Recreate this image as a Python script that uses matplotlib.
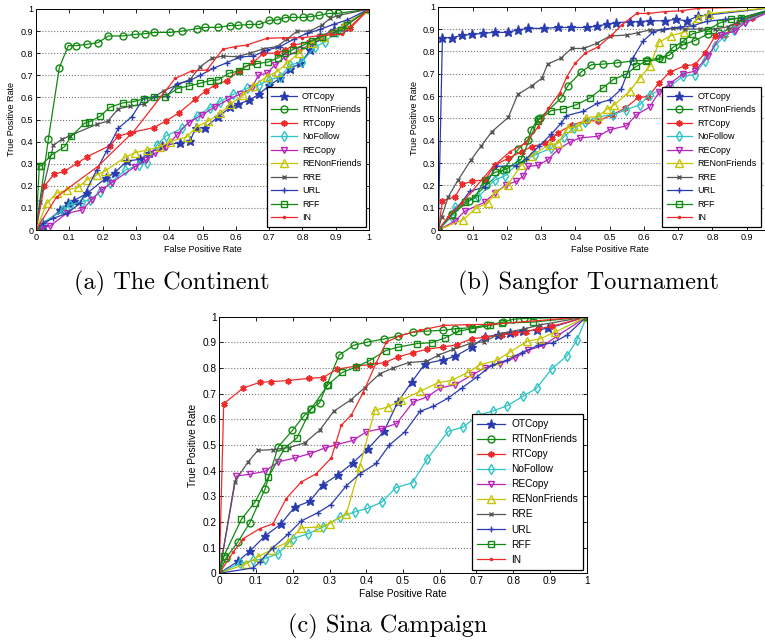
import matplotlib
matplotlib.use("Agg")
import matplotlib.pyplot as plt
from matplotlib.ticker import FormatStrFormatter

plt.rcParams['font.family'] = ['Liberation Sans', 'DejaVu Sans']

names = ["OTCopy", "RTNonFriends", "RTCopy", "NoFollow", "RECopy",
         "RENonFriends", "RRE", "URL", "RFF", "IN"]

# ---- (a) The Continent ----
a_otcopy_x = [0, 0.02, 0.072, 0.097, 0.114, 0.154, 0.21, 0.237, 0.273, 0.313, 0.338, 0.378, 0.433, 0.463, 0.48, 0.507, 0.546, 0.583, 0.608, 0.641, 0.67, 0.701, 0.733, 0.764, 0.794, 0.824, 0.854, 0.894, 0.924, 1]
a_otcopy_y = [0, 0.02, 0.089, 0.122, 0.133, 0.167, 0.235, 0.26, 0.312, 0.32, 0.347, 0.382, 0.395, 0.404, 0.463, 0.463, 0.51, 0.555, 0.57, 0.588, 0.614, 0.656, 0.686, 0.73, 0.754, 0.815, 0.875, 0.905, 0.92, 1]
a_rtnon_x = [0, 0.037, 0.07, 0.097, 0.12, 0.152, 0.187, 0.217, 0.26, 0.297, 0.326, 0.355, 0.402, 0.438, 0.483, 0.509, 0.547, 0.582, 0.607, 0.639, 0.671, 0.701, 0.723, 0.749, 0.772, 0.802, 0.824, 0.85, 0.879, 0.906, 1]
a_rtnon_y = [0, 0.41, 0.735, 0.834, 0.834, 0.84, 0.848, 0.878, 0.878, 0.885, 0.888, 0.894, 0.894, 0.9, 0.911, 0.917, 0.917, 0.925, 0.926, 0.93, 0.93, 0.949, 0.95, 0.961, 0.962, 0.962, 0.965, 0.971, 0.98, 0.98, 1]
a_rtcopy_x = [0, 0.025, 0.054, 0.084, 0.124, 0.154, 0.222, 0.247, 0.282, 0.353, 0.39, 0.43, 0.478, 0.51, 0.539, 0.573, 0.609, 0.653, 0.683, 0.723, 0.749, 0.773, 0.819, 0.854, 0.894, 0.944, 1]
a_rtcopy_y = [0, 0.198, 0.252, 0.265, 0.302, 0.332, 0.382, 0.424, 0.44, 0.463, 0.493, 0.531, 0.591, 0.63, 0.656, 0.676, 0.721, 0.759, 0.8, 0.8, 0.815, 0.836, 0.851, 0.872, 0.897, 0.913, 1]
a_nofollow_x = [0, 0.017, 0.082, 0.102, 0.137, 0.162, 0.192, 0.222, 0.268, 0.308, 0.333, 0.363, 0.39, 0.438, 0.483, 0.523, 0.553, 0.593, 0.633, 0.67, 0.701, 0.733, 0.764, 0.799, 0.839, 0.869, 0.904, 1]
a_nofollow_y = [0, 0.03, 0.09, 0.113, 0.128, 0.136, 0.173, 0.211, 0.271, 0.294, 0.305, 0.385, 0.425, 0.46, 0.516, 0.554, 0.581, 0.614, 0.641, 0.656, 0.679, 0.694, 0.746, 0.762, 0.83, 0.852, 0.897, 1]
a_recopy_x = [0, 0.015, 0.042, 0.092, 0.137, 0.167, 0.197, 0.227, 0.298, 0.331, 0.358, 0.391, 0.423, 0.458, 0.498, 0.538, 0.578, 0.613, 0.648, 0.668, 0.693, 0.718, 0.749, 0.794, 0.829, 0.854, 0.889, 0.924, 1]
a_recopy_y = [0, 0.008, 0.018, 0.075, 0.09, 0.136, 0.181, 0.214, 0.287, 0.317, 0.347, 0.377, 0.43, 0.486, 0.52, 0.558, 0.591, 0.615, 0.641, 0.701, 0.709, 0.747, 0.784, 0.815, 0.845, 0.875, 0.893, 0.92, 1]
a_renon_x = [0, 0.032, 0.062, 0.092, 0.127, 0.152, 0.182, 0.207, 0.268, 0.298, 0.333, 0.373, 0.403, 0.453, 0.483, 0.518, 0.553, 0.583, 0.623, 0.653, 0.693, 0.723, 0.753, 0.789, 0.829, 0.864, 0.924, 1]
a_renon_y = [0, 0.12, 0.166, 0.181, 0.193, 0.226, 0.249, 0.267, 0.329, 0.35, 0.362, 0.377, 0.4, 0.422, 0.468, 0.493, 0.528, 0.569, 0.611, 0.652, 0.694, 0.716, 0.754, 0.8, 0.848, 0.875, 0.928, 1]
a_rre_x = [0, 0.012, 0.052, 0.077, 0.102, 0.182, 0.215, 0.247, 0.283, 0.323, 0.383, 0.423, 0.463, 0.493, 0.528, 0.561, 0.603, 0.643, 0.683, 0.723, 0.754, 0.784, 0.822, 0.859, 0.884, 0.906, 1]
a_rre_y = [0, 0.128, 0.383, 0.41, 0.427, 0.478, 0.492, 0.548, 0.56, 0.569, 0.63, 0.656, 0.682, 0.739, 0.777, 0.787, 0.784, 0.8, 0.82, 0.83, 0.864, 0.9, 0.9, 0.928, 0.958, 0.97, 1]
a_url_x = [0, 0.022, 0.052, 0.092, 0.132, 0.182, 0.212, 0.247, 0.288, 0.323, 0.353, 0.393, 0.423, 0.458, 0.493, 0.533, 0.573, 0.613, 0.653, 0.693, 0.733, 0.774, 0.814, 0.854, 0.894, 0.934, 1]
a_url_y = [0, 0.032, 0.053, 0.075, 0.12, 0.271, 0.357, 0.46, 0.513, 0.596, 0.603, 0.606, 0.662, 0.673, 0.7, 0.732, 0.757, 0.783, 0.787, 0.814, 0.83, 0.863, 0.89, 0.908, 0.931, 0.95, 1]
a_rff_x = [0, 0.01, 0.015, 0.045, 0.085, 0.106, 0.146, 0.16, 0.192, 0.222, 0.26, 0.293, 0.323, 0.354, 0.388, 0.425, 0.459, 0.493, 0.523, 0.547, 0.579, 0.609, 0.631, 0.665, 0.697, 0.728, 0.749, 0.771, 0.804, 0.829, 0.86, 0.891, 0.917, 0.934, 1]
a_rff_y = [0, 0.29, 0.29, 0.338, 0.376, 0.424, 0.483, 0.489, 0.514, 0.555, 0.575, 0.581, 0.593, 0.6, 0.603, 0.64, 0.652, 0.664, 0.676, 0.679, 0.709, 0.72, 0.742, 0.753, 0.76, 0.78, 0.8, 0.816, 0.837, 0.857, 0.875, 0.89, 0.905, 0.928, 1]
a_in_x = [0, 0.062, 0.185, 0.293, 0.418, 0.468, 0.513, 0.561, 0.598, 0.633, 0.693, 0.743, 0.799, 0.884, 0.919, 1]
a_in_y = [0, 0.15, 0.287, 0.445, 0.686, 0.72, 0.724, 0.818, 0.83, 0.837, 0.867, 0.87, 0.87, 0.885, 0.885, 1]

# ---- (b) Sangfor Tournament ----
b_otcopy_x = [0, 0.012, 0.039, 0.07, 0.099, 0.129, 0.165, 0.202, 0.232, 0.263, 0.308, 0.348, 0.387, 0.433, 0.462, 0.491, 0.519, 0.559, 0.589, 0.618, 0.661, 0.694, 0.725, 0.759, 0.788, 1]
b_otcopy_y = [0, 0.861, 0.861, 0.872, 0.876, 0.881, 0.885, 0.885, 0.896, 0.903, 0.903, 0.907, 0.907, 0.907, 0.913, 0.921, 0.928, 0.933, 0.933, 0.937, 0.937, 0.943, 0.937, 0.958, 0.963, 1]
b_rtnon_x = [0, 0.04, 0.09, 0.14, 0.19, 0.234, 0.262, 0.271, 0.291, 0.297, 0.359, 0.378, 0.417, 0.447, 0.482, 0.52, 0.569, 0.61, 0.644, 0.673, 0.714, 0.748, 0.787, 0.82, 0.855, 0.884, 1]
b_rtnon_y = [0, 0.07, 0.13, 0.2, 0.27, 0.363, 0.404, 0.449, 0.497, 0.503, 0.591, 0.646, 0.708, 0.74, 0.743, 0.748, 0.757, 0.76, 0.77, 0.782, 0.83, 0.848, 0.878, 0.88, 0.905, 0.942, 1]
b_rtcopy_x = [0, 0.012, 0.049, 0.07, 0.099, 0.136, 0.165, 0.204, 0.243, 0.272, 0.311, 0.331, 0.35, 0.389, 0.433, 0.467, 0.506, 0.545, 0.584, 0.613, 0.644, 0.675, 0.719, 0.748, 0.778, 0.807, 0.836, 0.865, 0.914, 1]
b_rtcopy_y = [0, 0.13, 0.149, 0.204, 0.219, 0.224, 0.291, 0.321, 0.351, 0.373, 0.388, 0.41, 0.436, 0.47, 0.49, 0.488, 0.515, 0.545, 0.594, 0.597, 0.658, 0.706, 0.736, 0.74, 0.791, 0.867, 0.875, 0.912, 0.948, 1]
b_nofollow_x = [0, 0.039, 0.049, 0.117, 0.165, 0.195, 0.233, 0.282, 0.328, 0.367, 0.396, 0.428, 0.467, 0.51, 0.549, 0.588, 0.617, 0.675, 0.714, 0.748, 0.777, 0.807, 0.834, 0.863, 0.894, 1]
b_nofollow_y = [0, 0.06, 0.104, 0.149, 0.224, 0.243, 0.299, 0.336, 0.366, 0.418, 0.458, 0.482, 0.507, 0.516, 0.539, 0.561, 0.606, 0.643, 0.688, 0.696, 0.755, 0.823, 0.867, 0.897, 0.935, 1]
b_recopy_x = [0, 0.048, 0.077, 0.135, 0.165, 0.199, 0.228, 0.247, 0.262, 0.291, 0.32, 0.349, 0.383, 0.413, 0.466, 0.5, 0.549, 0.578, 0.617, 0.644, 0.675, 0.714, 0.748, 0.787, 0.826, 0.865, 0.894, 1]
b_recopy_y = [0, 0.039, 0.084, 0.124, 0.166, 0.203, 0.218, 0.24, 0.285, 0.29, 0.315, 0.36, 0.393, 0.412, 0.42, 0.449, 0.467, 0.516, 0.551, 0.617, 0.655, 0.699, 0.711, 0.778, 0.875, 0.89, 0.927, 1]
b_renon_x = [0, 0.072, 0.111, 0.145, 0.165, 0.203, 0.242, 0.271, 0.325, 0.349, 0.378, 0.408, 0.432, 0.466, 0.491, 0.514, 0.558, 0.588, 0.617, 0.644, 0.678, 0.717, 0.758, 0.79, 1]
b_renon_y = [0, 0.046, 0.098, 0.121, 0.166, 0.203, 0.292, 0.333, 0.382, 0.388, 0.457, 0.464, 0.502, 0.509, 0.54, 0.561, 0.621, 0.681, 0.733, 0.841, 0.87, 0.886, 0.95, 0.969, 1]
b_rre_x = [0, 0.01, 0.029, 0.058, 0.095, 0.126, 0.156, 0.204, 0.232, 0.272, 0.302, 0.319, 0.357, 0.389, 0.425, 0.462, 0.501, 0.55, 0.584, 0.618, 0.652, 0.686, 0.72, 0.764, 0.807, 0.846, 0.875, 1]
b_rre_y = [0, 0.06, 0.149, 0.224, 0.313, 0.378, 0.44, 0.504, 0.607, 0.645, 0.679, 0.743, 0.769, 0.813, 0.813, 0.836, 0.869, 0.873, 0.884, 0.896, 0.896, 0.903, 0.9, 0.9, 0.9, 0.91, 0.933, 1]
b_url_x = [0, 0.05, 0.092, 0.135, 0.169, 0.227, 0.256, 0.295, 0.33, 0.359, 0.374, 0.422, 0.464, 0.5, 0.534, 0.568, 0.597, 0.626, 0.66, 0.704, 0.743, 0.783, 0.836, 0.884, 1]
b_url_y = [0, 0.09, 0.173, 0.193, 0.285, 0.288, 0.318, 0.377, 0.43, 0.479, 0.512, 0.531, 0.567, 0.583, 0.631, 0.77, 0.845, 0.886, 0.9, 0.909, 0.915, 0.934, 0.943, 0.95, 1]
b_rff_x = [0, 0.039, 0.077, 0.106, 0.135, 0.165, 0.199, 0.242, 0.29, 0.33, 0.364, 0.403, 0.442, 0.48, 0.51, 0.549, 0.578, 0.605, 0.654, 0.685, 0.714, 0.741, 0.787, 0.821, 0.855, 0.884, 1]
b_rff_y = [0, 0.067, 0.125, 0.143, 0.225, 0.258, 0.273, 0.318, 0.49, 0.535, 0.542, 0.561, 0.591, 0.636, 0.673, 0.699, 0.733, 0.755, 0.766, 0.818, 0.845, 0.878, 0.897, 0.927, 0.943, 0.95, 1]
b_in_x = [0, 0.029, 0.068, 0.16, 0.209, 0.253, 0.292, 0.321, 0.355, 0.375, 0.399, 0.428, 0.467, 0.506, 0.535, 0.579, 0.613, 0.661, 0.71, 0.759, 1]
b_in_y = [0, 0.06, 0.119, 0.284, 0.351, 0.388, 0.463, 0.545, 0.615, 0.687, 0.746, 0.791, 0.821, 0.873, 0.918, 0.97, 0.97, 0.978, 0.982, 0.993, 1]

# ---- (c) Sina Campaign ----
c_otcopy_x = [0, 0.051, 0.083, 0.124, 0.167, 0.205, 0.246, 0.282, 0.323, 0.364, 0.405, 0.448, 0.486, 0.524, 0.56, 0.61, 0.641, 0.687, 0.723, 0.759, 0.791, 0.827, 0.864, 0.896, 1]
c_otcopy_y = [0, 0.047, 0.086, 0.145, 0.191, 0.258, 0.28, 0.345, 0.384, 0.431, 0.486, 0.553, 0.668, 0.746, 0.817, 0.832, 0.845, 0.882, 0.921, 0.93, 0.935, 0.944, 0.948, 0.955, 1]
c_rtnon_x = [0, 0.019, 0.051, 0.083, 0.125, 0.16, 0.199, 0.23, 0.25, 0.273, 0.293, 0.326, 0.366, 0.403, 0.448, 0.487, 0.528, 0.565, 0.61, 0.641, 0.687, 0.728, 0.771, 0.8, 0.828, 1]
c_rtnon_y = [0, 0.061, 0.123, 0.197, 0.33, 0.492, 0.557, 0.613, 0.641, 0.665, 0.735, 0.85, 0.889, 0.901, 0.913, 0.925, 0.94, 0.944, 0.947, 0.953, 0.957, 0.968, 0.978, 0.99, 0.993, 1]
c_rtcopy_x = [0, 0.012, 0.065, 0.11, 0.141, 0.186, 0.245, 0.282, 0.32, 0.373, 0.409, 0.45, 0.486, 0.528, 0.565, 0.61, 0.646, 0.687, 0.723, 0.769, 0.805, 0.836, 0.868, 0.905, 1]
c_rtcopy_y = [0, 0.661, 0.722, 0.744, 0.747, 0.751, 0.76, 0.763, 0.795, 0.808, 0.813, 0.821, 0.843, 0.86, 0.873, 0.882, 0.891, 0.914, 0.92, 0.93, 0.935, 0.942, 0.953, 0.962, 1]
c_nofollow_x = [0, 0.056, 0.092, 0.124, 0.16, 0.2, 0.241, 0.282, 0.328, 0.369, 0.403, 0.442, 0.481, 0.526, 0.565, 0.623, 0.664, 0.705, 0.744, 0.782, 0.827, 0.864, 0.905, 0.946, 0.973, 1]
c_nofollow_y = [0, 0.039, 0.05, 0.057, 0.076, 0.135, 0.154, 0.18, 0.219, 0.239, 0.253, 0.277, 0.334, 0.353, 0.444, 0.553, 0.57, 0.616, 0.632, 0.652, 0.69, 0.722, 0.797, 0.847, 0.908, 1]
c_recopy_x = [0, 0.046, 0.083, 0.124, 0.16, 0.205, 0.246, 0.287, 0.318, 0.364, 0.4, 0.441, 0.482, 0.528, 0.565, 0.601, 0.642, 0.687, 0.723, 0.764, 0.805, 0.841, 0.882, 0.92, 1]
c_recopy_y = [0, 0.379, 0.386, 0.397, 0.434, 0.449, 0.466, 0.488, 0.501, 0.518, 0.551, 0.564, 0.583, 0.668, 0.687, 0.722, 0.735, 0.772, 0.801, 0.817, 0.84, 0.869, 0.888, 0.925, 1]
c_renon_x = [0, 0.073, 0.105, 0.142, 0.187, 0.223, 0.269, 0.3, 0.346, 0.382, 0.423, 0.459, 0.495, 0.546, 0.596, 0.633, 0.678, 0.71, 0.755, 0.791, 0.837, 0.873, 0.914, 1]
c_renon_y = [0, 0.037, 0.064, 0.092, 0.122, 0.177, 0.18, 0.193, 0.232, 0.414, 0.635, 0.648, 0.674, 0.709, 0.743, 0.752, 0.784, 0.813, 0.83, 0.862, 0.904, 0.914, 0.94, 1]
c_rre_x = [0, 0.042, 0.078, 0.105, 0.146, 0.19, 0.232, 0.273, 0.311, 0.359, 0.396, 0.437, 0.473, 0.515, 0.566, 0.596, 0.637, 0.682, 0.721, 0.764, 0.832, 0.873, 1]
c_rre_y = [0, 0.356, 0.434, 0.479, 0.482, 0.49, 0.508, 0.557, 0.631, 0.677, 0.723, 0.778, 0.8, 0.821, 0.827, 0.85, 0.873, 0.895, 0.903, 0.934, 0.953, 0.968, 1]
c_url_x = [0, 0.092, 0.11, 0.146, 0.187, 0.223, 0.268, 0.304, 0.345, 0.382, 0.427, 0.463, 0.505, 0.546, 0.583, 0.623, 0.66, 0.701, 0.741, 0.782, 0.823, 0.868, 0.909, 0.946, 1]
c_url_y = [0, 0.021, 0.044, 0.1, 0.152, 0.204, 0.236, 0.268, 0.34, 0.387, 0.428, 0.5, 0.551, 0.631, 0.651, 0.683, 0.722, 0.765, 0.81, 0.83, 0.86, 0.888, 0.899, 0.928, 1]
c_rff_x = [0, 0.013, 0.06, 0.096, 0.133, 0.178, 0.211, 0.25, 0.296, 0.335, 0.371, 0.409, 0.453, 0.486, 0.537, 0.578, 0.614, 0.65, 0.687, 0.737, 0.77, 0.855, 1]
c_rff_y = [0, 0.069, 0.21, 0.275, 0.374, 0.488, 0.527, 0.641, 0.735, 0.783, 0.803, 0.829, 0.868, 0.881, 0.895, 0.899, 0.917, 0.943, 0.953, 0.966, 0.975, 0.979, 1]
c_in_x = [0, 0.038, 0.065, 0.11, 0.146, 0.182, 0.223, 0.264, 0.305, 0.332, 0.359, 0.391, 0.427, 0.455, 0.492, 0.546, 0.61, 0.673, 0.737, 1]
c_in_y = [0, 0.083, 0.135, 0.174, 0.193, 0.291, 0.356, 0.388, 0.45, 0.577, 0.616, 0.703, 0.82, 0.901, 0.926, 0.947, 0.966, 0.969, 0.97, 1]

panel_a = [(a_otcopy_x, a_otcopy_y), (a_rtnon_x, a_rtnon_y), (a_rtcopy_x, a_rtcopy_y),
           (a_nofollow_x, a_nofollow_y), (a_recopy_x, a_recopy_y), (a_renon_x, a_renon_y),
           (a_rre_x, a_rre_y), (a_url_x, a_url_y), (a_rff_x, a_rff_y), (a_in_x, a_in_y)]
panel_b = [(b_otcopy_x, b_otcopy_y), (b_rtnon_x, b_rtnon_y), (b_rtcopy_x, b_rtcopy_y),
           (b_nofollow_x, b_nofollow_y), (b_recopy_x, b_recopy_y), (b_renon_x, b_renon_y),
           (b_rre_x, b_rre_y), (b_url_x, b_url_y), (b_rff_x, b_rff_y), (b_in_x, b_in_y)]
panel_c = [(c_otcopy_x, c_otcopy_y), (c_rtnon_x, c_rtnon_y), (c_rtcopy_x, c_rtcopy_y),
           (c_nofollow_x, c_nofollow_y), (c_recopy_x, c_recopy_y), (c_renon_x, c_renon_y),
           (c_rre_x, c_rre_y), (c_url_x, c_url_y), (c_rff_x, c_rff_y), (c_in_x, c_in_y)]

# line styles (matlab-ish colours)
blue, green, red = "#2a3cb0", "#108a10", "#f02a2a"
styles = [
    dict(color=blue, marker="*", ms=6.5, mfc=blue),
    dict(color=green, marker="o", ms=5, mfc="none"),
    dict(color=red, marker=(6, 2, 0), ms=4.5, mew=1.2),
    dict(color="#2ec4c4", marker="d", ms=5, mfc="none"),
    dict(color="#bb22bb", marker="v", ms=5, mfc="none"),
    dict(color="#c4c400", marker="^", ms=5.5, mfc="none"),
    dict(color="#555555", marker="x", ms=3.5),
    dict(color=blue, marker="+", ms=4.5),
    dict(color=green, marker="s", ms=4.5, mfc="none"),
    dict(color=red, marker=".", ms=3),
]

ticks = [i / 10 for i in range(11)]
tick_labels = ["%g" % t for t in ticks]


def draw(ax, data, fs, leg_anchor=None, xlabels=tick_labels):
    for (x, y), name, st in zip(data, names, styles):
        ax.plot(x, y, lw=0.9, label=name, **st)
    ax.set_xlim(0, 1)
    ax.set_ylim(0, 1)
    ax.set_xticks(ticks)
    ax.set_xticklabels(xlabels)
    ax.set_yticks(ticks)
    ax.yaxis.set_major_formatter(FormatStrFormatter("%g"))
    ax.tick_params(direction="in", length=3, width=0.6, labelsize=fs,
                   top=True, right=True, pad=2)
    ax.yaxis.grid(True, linestyle=":", color="#777777", lw=0.8)
    ax.set_axisbelow(True)
    for s in ax.spines.values():
        s.set_linewidth(0.7)
    ax.set_xlabel("False Positive Rate", fontsize=fs, labelpad=2)
    ax.set_ylabel("True Positive Rate", fontsize=fs, labelpad=3)
    opts = dict(fontsize=fs, fancybox=False, framealpha=1, edgecolor="black",
                handlelength=2.8, labelspacing=0.5, handletextpad=0.6, borderpad=0.5)
    if leg_anchor is None:
        leg = ax.legend(loc="lower right", borderaxespad=0.35, **opts)
    else:
        leg = ax.legend(loc="lower left", bbox_to_anchor=leg_anchor,
                        borderaxespad=0, **opts)
    leg.get_frame().set_linewidth(0.9)


W, H = 765, 642
fig = plt.figure(figsize=(W / 100, H / 100), dpi=100)

ax_a = fig.add_axes([36 / W, (H - 230) / H, 333 / W, 221 / H])
ax_b = fig.add_axes([438.3 / W, (H - 230) / H, 342.7 / W, 223.3 / H])
ax_c = fig.add_axes([219.3 / W, (H - 573.3) / H, 367.4 / W, 256.6 / H])

draw(ax_a, panel_a, 6.5)
# panel (b) runs past the right edge of the figure, its "1" label is not seen
draw(ax_b, panel_b, 6.5, leg_anchor=(0.653, 0.0134), xlabels=tick_labels[:-1] + [""])
draw(ax_c, panel_c, 7.3)

cap = dict(family="cmr10", fontsize=17.5, ha="center", va="center")
fig.text(172 / W, 1 - 283 / H, "(a) The Continent", **cap)
fig.text(588 / W, 1 - 283 / H, "(b) Sangfor Tournament", **cap)
fig.text(388 / W, 1 - 626 / H, "(c) Sina Campaign", **cap)

fig.savefig("out.png", dpi=100)
